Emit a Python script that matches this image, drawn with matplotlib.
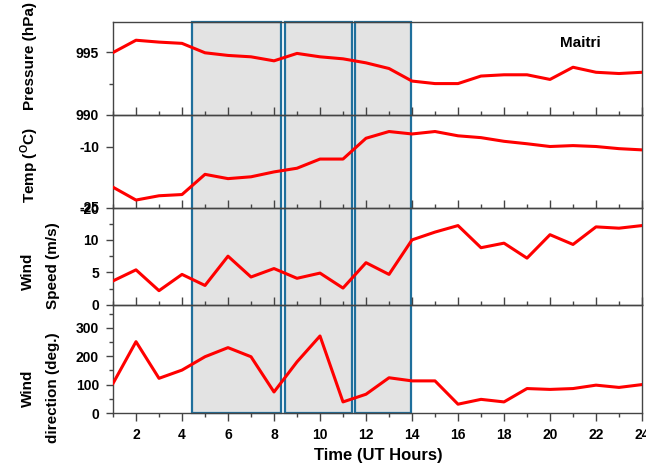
import numpy as np
import matplotlib
matplotlib.use('Agg')
import matplotlib.pyplot as plt
from matplotlib.patches import Rectangle
from matplotlib.transforms import blended_transform_factory
from matplotlib.ticker import MultipleLocator

plt.rcParams['font.family'] = 'Liberation Sans'
plt.rcParams['font.weight'] = 'bold'
plt.rcParams['mathtext.fontset'] = 'custom'
plt.rcParams['mathtext.rm'] = 'Liberation Sans:bold'
plt.rcParams['mathtext.bf'] = 'Liberation Sans:bold'

# hourly data (UT hours 1..24)
hours = list(range(1, 25))
pressure = [994.97, 995.95, 995.8, 995.7, 994.95, 994.74, 994.63, 994.31, 994.9, 994.63,
            994.47, 994.15, 993.7, 992.7, 992.5, 992.5, 993.1, 993.2, 993.2, 992.83,
            993.8, 993.4, 993.3, 993.4]
temp = [-16.6, -18.7, -18.0, -17.8, -14.5, -15.2, -14.9, -14.1, -13.5, -12.0,
        -12.0, -8.6, -7.5, -7.9, -7.5, -8.2, -8.5, -9.1, -9.5, -9.95,
        -9.8, -9.95, -10.3, -10.5]
wind_speed = [3.7, 5.4, 2.2, 4.7, 3.0, 7.5, 4.3, 5.6, 4.1, 4.9,
              2.6, 6.5, 4.7, 10.0, 11.2, 12.2, 8.8, 9.5, 7.2, 10.8,
              9.3, 12.0, 11.8, 12.2]
wind_dir = [104, 251, 122, 151, 198, 230, 198, 74, 180, 271,
            39, 66, 124, 113, 113, 31, 48, 39, 86, 83,
            86, 98, 90, 100]

# shaded periods (start, end) in UT hours
periods = [(4.45, 8.32), (8.49, 11.39), (11.54, 13.94)]

W, H = 646, 465
fig = plt.figure(figsize=(W / 100, H / 100), dpi=100)

left, right = 113, 642
edges = [22, 115, 208, 305, 413]

def px_axes(top, bot):
    return fig.add_axes([left / W, 1 - bot / H, (right - left) / W, (bot - top) / H])

axes = [px_axes(edges[i], edges[i + 1]) for i in range(4)]
series = [pressure, temp, wind_speed, wind_dir]
ylims = [(990, 997.4), (-20, -4.8), (0, 14.9), (0, 380)]
majors = [5, 10, 5, 100]
minors = [2.5, 10, 2.5, 50]

for i, ax in enumerate(axes):
    ax.set_facecolor('none')
    ax.plot(hours, series[i], color='red', lw=2.2, zorder=3)
    ax.set_xlim(1, 24)
    ax.set_ylim(*ylims[i])
    ax.xaxis.set_major_locator(MultipleLocator(2))
    ax.xaxis.set_minor_locator(MultipleLocator(1))
    ax.yaxis.set_major_locator(MultipleLocator(majors[i]))
    ax.yaxis.set_minor_locator(MultipleLocator(minors[i]))
    for s in ax.spines.values():
        s.set_color('#444444')
        s.set_linewidth(1.0)
    ax.tick_params(axis='y', which='major', direction='out', length=5, width=1,
                   color='#444444', labelsize=10, pad=5)
    ax.tick_params(axis='y', which='minor', direction='out', length=3, width=1,
                   color='#444444')
    xdir = 'out' if i == 3 else 'in'
    ax.tick_params(axis='x', which='major', direction=xdir, length=6, width=1,
                   color='#444444', labelsize=10, pad=5)
    ax.tick_params(axis='x', which='minor', direction=xdir, length=3, width=1,
                   color='#444444')
    if i < 3:
        ax.tick_params(axis='x', labelbottom=False)

axes[0].set_yticks([990, 995])
axes[1].set_yticks([-20, -10])
axes[1].set_yticklabels(['-20', '-10'])
axes[1].yaxis.set_minor_locator(MultipleLocator(100))
axes[1].text(-0.026, 0, '-25', transform=axes[1].transAxes, ha='right', va='center',
             fontsize=10, fontweight='bold')
axes[2].set_yticks([0, 5, 10])
axes[3].set_yticks([0, 100, 200, 300])

# shaded rectangles spanning all panels
trans = blended_transform_factory(axes[3].transData, fig.transFigure)
y0 = 1 - edges[-1] / H
y1 = 1 - edges[0] / H
for a, b in periods:
    fig.patches.append(Rectangle((a, y0), b - a, y1 - y0, transform=trans,
                                 facecolor='#e3e3e3', edgecolor='#1f6f9c',
                                 lw=1.6, zorder=-1))

fig.text(580 / W, 1 - 43 / H, 'Maitri', fontsize=11, fontweight='bold',
         ha='center', va='center')

def ftext(x, y, s, **kw):
    fig.text(x / W, 1 - y / H, s, rotation=90, ha='center', va='center',
             fontsize=11, fontweight='bold', **kw)

ftext(30, 56, 'Pressure (hPa)')
ftext(30, 165, r'Temp ($^{\mathbf{O}}$C)')
ftext(28, 271, 'Wind')
ftext(53, 266, 'Speed (m/s)')
ftext(28, 388, 'Wind')
ftext(53, 388, 'direction (deg.)')
fig.text(378 / W, 1 - 455 / H, 'Time (UT Hours)', ha='center', va='center',
         fontsize=12, fontweight='bold')

fig.savefig('out.png', dpi=100)
